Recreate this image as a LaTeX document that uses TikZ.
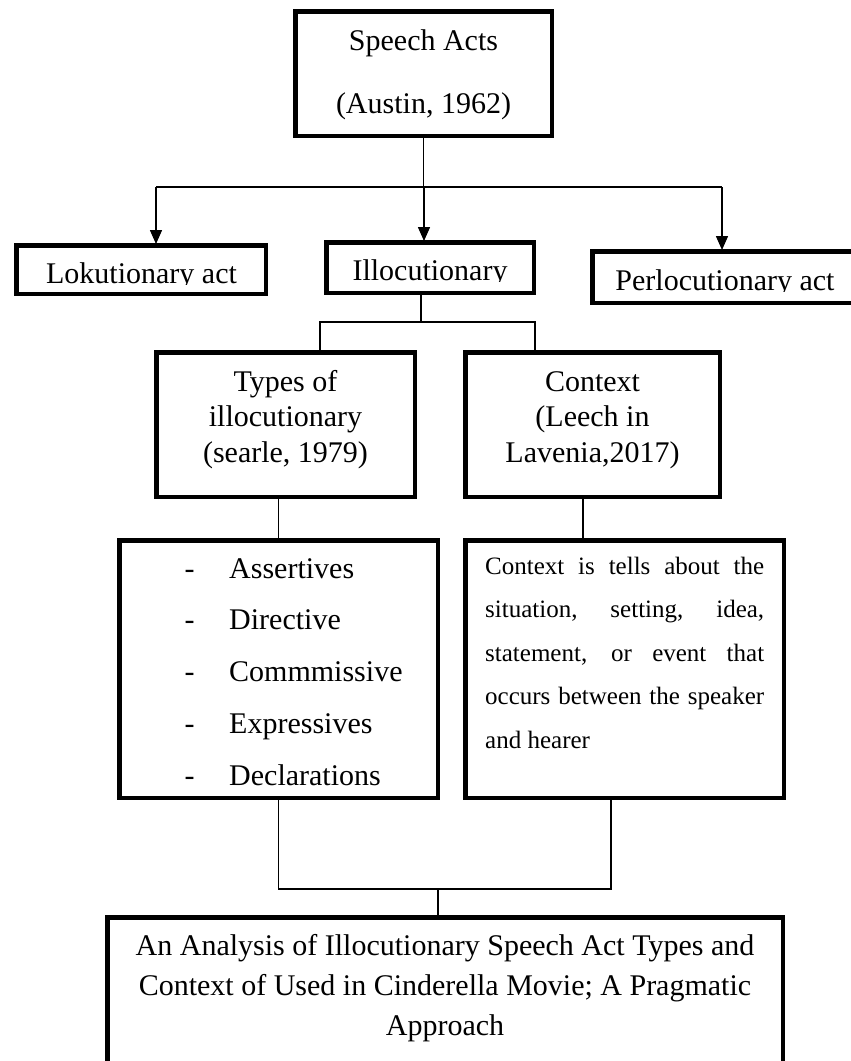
\documentclass[tikz,border=0pt]{standalone}
\usepackage{fontspec}
\setmainfont{Liberation Serif}
\usetikzlibrary{arrows.meta}
\begin{document}
\begin{tikzpicture}[x=1pt,y=-1pt,
  box/.style={draw=black, line width=4.5pt, rectangle, inner sep=0pt},
  conn/.style={draw=black, line width=1.5pt},
  arr/.style={conn, -{Triangle[length=14pt,width=12pt]}, shorten >=-1pt},
  big/.style={inner sep=0pt, font=\fontsize{30}{35.5}\selectfont},
  small/.style={inner sep=0pt, font=\fontsize{25}{43.5}\selectfont}]
\useasboundingbox (0,0) rectangle (851,1061);
% boxes
\node[box, minimum width=256.5pt, minimum height=124.5pt] (sa) at (423.5,73.5) {};
\node[box, minimum width=249.5pt, minimum height=48.5pt] (lok) at (141,269.5) {};
\node[box, minimum width=207.5pt, minimum height=50.5pt] (ill) at (430,267.5) {};
\node[box, minimum width=275.5pt, minimum height=51.5pt] (per) at (730,277) {};
\node[box, minimum width=258.5pt, minimum height=144.5pt] (types) at (285.5,424.5) {};
\node[box, minimum width=254.5pt, minimum height=144.5pt] (ctx) at (592.5,424.5) {};
\node[box, minimum width=318.5pt, minimum height=257.5pt] (list) at (278.5,669) {};
\node[box, minimum width=318.5pt, minimum height=257.5pt] (desc) at (624.5,669) {};
\node[box, minimum width=675.5pt, minimum height=180.5pt] (fin) at (445,1007.5) {};
% junction coordinates
\coordinate (hL) at (156,187);
\coordinate (hM) at (424,187);
\coordinate (hR) at (722,187);
\coordinate (m2) at (421,322);
\coordinate (t2L) at (320,322);
\coordinate (t2R) at (535,322);
\coordinate (c3R) at (583,519);
\coordinate (b1) at (278.5,889);
\coordinate (b2) at (611,889);
\coordinate (bm) at (438,889);
% connectors
\draw[conn] (sa.south) -- (sa.south |- hM);
\draw[conn] (hL) -- (hR);
\draw[arr] (hL) -- (hL |- lok.north);
\draw[arr] (hM) -- (hM |- ill.north);
\draw[arr] (hR) -- (hR |- per.north);
\draw[conn] (m2 |- ill.south) -- (m2);
\draw[conn] (t2L |- types.north) -- (t2L) -- (t2R) -- (t2R |- ctx.north);
\draw[conn] (list.north) -- (list.north |- types.south);
\draw[conn] (c3R |- ctx.south) -- (c3R |- desc.north);
\draw[conn] (list.south) -- (list.south |- b1) -- (b2) -- (b2 |- desc.south);
\draw[conn] (bm) -- (bm |- fin.north);
% texts
\node[big, anchor=base] (saT1) at (423.5,50) {Speech Acts};
\node[big, anchor=base] (saT2) at (423.5,113) {(Austin, 1962)};
\begin{scope}
  \clip (0,0) rectangle (300,284.5);
  \node[big, anchor=base] (lokT) at (141.5,283) {Lokutionary act};
\end{scope}
\begin{scope}
  \clip (300,0) rectangle (570,281.5);
  \node[big, anchor=base] (illT) at (430,280) {Illocutionary};
\end{scope}
\begin{scope}
  \clip (570,0) rectangle (851,291.5);
  \node[big, anchor=base] (perT) at (725,290) {Perlocutionary act};
\end{scope}
\node[big, anchor=base, align=center] (typesT) at (285.5,462) {Types of\\illocutionary\\(searle, 1979)};
\node[big, anchor=base, align=center] (ctxT) at (592.5,462) {Context\\(Leech in\\Lavenia,2017)};
% list
\foreach \y/\w [count=\i] in {578/Assertives,629.5/Directive,681.5/Commmissive,733/Expressives,785/Declarations}{
  \node[big, anchor=base west] (dash\i) at (184.5,\y) {-};
  \node[big, anchor=base west] (item\i) at (229,\y) {\w};
}
\node[small, anchor=base west, align=left] (descT) at (485,748) {%
\makebox[279pt][s]{Context is tells about the}\\
\makebox[279pt][s]{situation, setting, idea,}\\
\makebox[279pt][s]{statement, or event that}\\
\makebox[279pt][s]{occurs between the speaker}\\
and hearer};
\node[big, anchor=base, align=center, font=\fontsize{30}{40}\selectfont] (finT) at (445,1035) {An Analysis of Illocutionary Speech Act Types and\\Context of Used in Cinderella Movie; A Pragmatic\\Approach};
\end{tikzpicture}
\end{document}
